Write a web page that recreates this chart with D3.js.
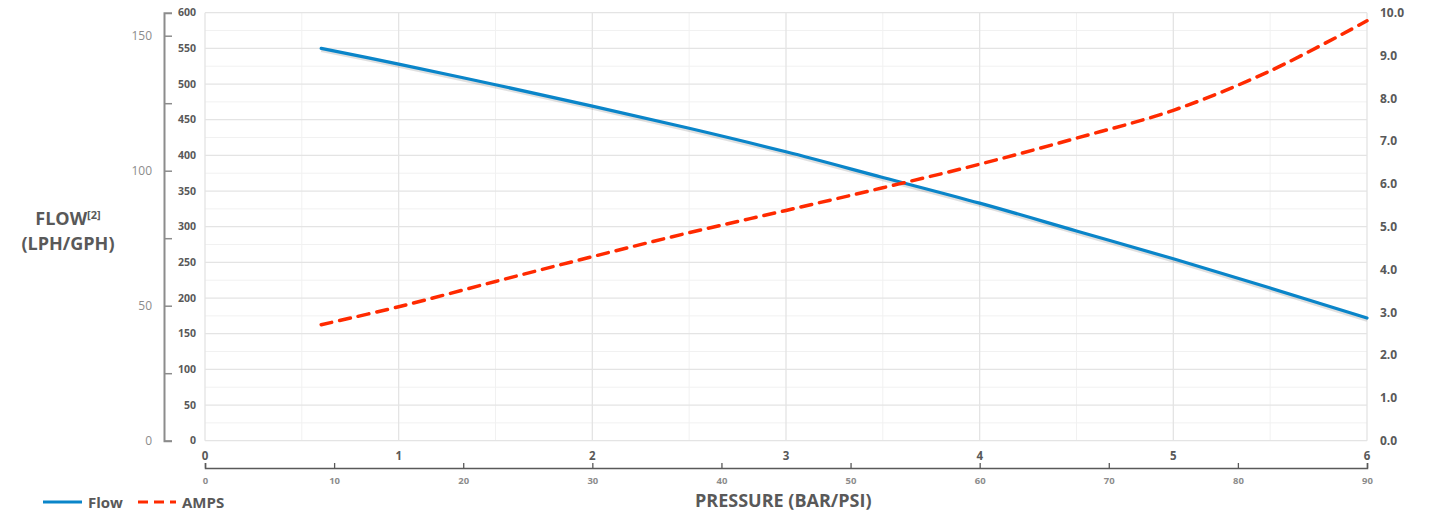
<!DOCTYPE html>
<html>
<head>
<meta charset="utf-8">
<script src="https://cdn.jsdelivr.net/npm/d3@7"></script>
<style>
  body { margin: 0; background: #fff; }
  svg { display: block; font-family: "Liberation Sans Narrow", "Open Sans", sans-serif; }
</style>
</head>
<body>
<div id="chart"></div>
<script>
const width = 1432;
const height = 515;

// pressure (bar) points along the curves
const pressureBar = [0.6, 1, 1.5, 2, 2.5, 3, 3.5, 4, 4.5, 5, 5.5, 6];
// flow in LPH
const flowLph = [550, 528, 499, 469, 438, 405, 369, 333, 294, 255, 214, 172];
// current draw in amps
const amps = [2.71, 3.13, 3.72, 4.30, 4.86, 5.38, 5.91, 6.46, 7.07, 7.72, 8.64, 9.81];

const barTicks = [0, 1, 2, 3, 4, 5, 6];
const psiTicks = [0, 10, 20, 30, 40, 50, 60, 70, 80, 90];
const lphTicks = [0, 50, 100, 150, 200, 250, 300, 350, 400, 450, 500, 550, 600];
const gphTicks = [0, 25, 50, 75, 100, 125, 150];
const ampTicks = [0, 1, 2, 3, 4, 5, 6, 7, 8, 9, 10];

const plotL = 205, plotR = 1367, plotT = 12.7, plotB = 440.7;

const x = d3.scaleLinear().domain([0, 6]).range([plotL, plotR]);
const xPsi = d3.scaleLinear().domain([0, 90]).range([plotL, plotR]);
const y = d3.scaleLinear().domain([0, 600]).range([plotB, plotT]);
const yGph = d3.scaleLinear().domain([0, 600 / 3.785]).range([plotB, plotT]);
const yAmp = d3.scaleLinear().domain([0, 10]).range([plotB, plotT]);

const svg = d3.select("#chart").append("svg")
    .attr("width", width)
    .attr("height", height);

// grid - minor first
const grid = svg.append("g");
grid.selectAll(".hminor")
    .data(d3.range(25, 600, 50))
    .enter().append("line")
    .attr("x1", plotL).attr("x2", plotR)
    .attr("y1", d => y(d)).attr("y2", d => y(d))
    .attr("stroke", "#f1f1f1").attr("stroke-width", 1);
grid.selectAll(".vminor")
    .data(d3.range(0.5, 6, 1))
    .enter().append("line")
    .attr("x1", d => x(d)).attr("x2", d => x(d))
    .attr("y1", plotT).attr("y2", plotB)
    .attr("stroke", "#f1f1f1").attr("stroke-width", 1);
grid.selectAll(".hmajor")
    .data(lphTicks)
    .enter().append("line")
    .attr("x1", plotL).attr("x2", plotR)
    .attr("y1", d => y(d)).attr("y2", d => y(d))
    .attr("stroke", "#e4e4e4").attr("stroke-width", 1.3);
grid.selectAll(".vmajor")
    .data(barTicks)
    .enter().append("line")
    .attr("x1", d => x(d)).attr("x2", d => x(d))
    .attr("y1", plotT).attr("y2", plotB)
    .attr("stroke", "#e4e4e4").attr("stroke-width", 1.3);

// LPH labels
svg.append("g").selectAll("text")
    .data(lphTicks)
    .enter().append("text")
    .attr("x", 196)
    .attr("y", d => y(d))
    .attr("dy", "0.35em")
    .attr("text-anchor", "end")
    .style("font-size", "10.5px")
    .style("font-weight", "bold")
    .style("fill", "#595959")
    .text(d => d);

// GPH axis
const gphAxis = svg.append("g")
    .attr("transform", "translate(164,0)")
    .call(d3.axisRight(yGph).tickValues(gphTicks).tickSize(8).tickSizeOuter(8)
        .tickFormat(d => d % 50 === 0 ? d : ""));
gphAxis.select(".domain").attr("stroke", "#8c8c8c").attr("stroke-width", 2);
gphAxis.selectAll(".tick line").attr("stroke", "#8c8c8c").attr("stroke-width", 1.5);
gphAxis.selectAll(".tick text")
    .attr("x", -12)
    .attr("text-anchor", "end")
    .style("font-family", "Liberation Sans Narrow, Open Sans, sans-serif")
    .style("font-size", "12px")
    .style("fill", "#8c8c8c");

// right amps labels
svg.append("g").selectAll("text")
    .data(ampTicks)
    .enter().append("text")
    .attr("x", 1380)
    .attr("y", d => yAmp(d))
    .attr("dy", "0.35em")
    .style("font-size", "12px")
    .style("font-weight", "bold")
    .style("fill", "#595959")
    .text(d => d3.format(".1f")(d));

// bar labels
svg.append("g").selectAll("text")
    .data(barTicks)
    .enter().append("text")
    .attr("x", d => x(d))
    .attr("y", 460)
    .attr("text-anchor", "middle")
    .style("font-size", "11.5px")
    .style("font-weight", "bold")
    .style("fill", "#595959")
    .text(d => d);

// PSI axis
const psiAxis = svg.append("g")
    .attr("transform", "translate(0,468)")
    .call(d3.axisBottom(xPsi).tickValues(psiTicks).tickSize(-5).tickSizeOuter(-5).tickPadding(9));
psiAxis.select(".domain").attr("stroke", "#595959").attr("stroke-width", 1.5);
psiAxis.selectAll(".tick line").attr("stroke", "#595959").attr("stroke-width", 1.3);
psiAxis.selectAll(".tick text")
    .style("font-family", "Liberation Sans Narrow, Open Sans, sans-serif")
    .style("font-size", "9.5px")
    .style("font-weight", "bold")
    .style("fill", "#8c8c8c");

// axis titles
svg.append("text")
    .attr("x", 695).attr("y", 507)
    .style("font-size", "18px")
    .style("font-weight", "bold")
    .style("fill", "#595959")
    .text("PRESSURE (BAR/PSI)");

const flowTitle = svg.append("text")
    .attr("x", 68).attr("y", 225)
    .attr("text-anchor", "middle")
    .style("font-size", "18px")
    .style("font-weight", "bold")
    .style("fill", "#595959");
flowTitle.append("tspan").text("FLOW");
flowTitle.append("tspan").attr("dy", -6).style("font-size", "11px").text("[2]");
svg.append("text")
    .attr("x", 68).attr("y", 250)
    .attr("text-anchor", "middle")
    .style("font-size", "18px")
    .style("font-weight", "bold")
    .style("fill", "#595959")
    .text("(LPH/GPH)");

// lines
const flowLine = d3.line()
    .x((d, i) => x(pressureBar[i]))
    .y(d => y(d))
    .curve(d3.curveCatmullRom.alpha(0.5));
const ampLine = d3.line()
    .x((d, i) => x(pressureBar[i]))
    .y(d => yAmp(d))
    .curve(d3.curveCatmullRom.alpha(0.5));

// soft shadow under flow
svg.append("path")
    .datum(flowLph)
    .attr("d", flowLine)
    .attr("transform", "translate(0,2)")
    .attr("fill", "none")
    .attr("stroke", "#000")
    .attr("stroke-opacity", 0.12)
    .attr("stroke-width", 3.5);
svg.append("path")
    .datum(flowLph)
    .attr("d", flowLine)
    .attr("fill", "none")
    .attr("stroke", "#0a85c9")
    .attr("stroke-width", 3.2)
    .attr("stroke-linecap", "round");

svg.append("path")
    .datum(amps)
    .attr("d", ampLine)
    .attr("fill", "none")
    .attr("stroke", "#ff2a00")
    .attr("stroke-width", 3.5)
    .attr("stroke-dasharray", "11,8")
    .attr("stroke-linecap", "round");

// legend
const legend = svg.append("g");
legend.append("line")
    .attr("x1", 43).attr("x2", 82).attr("y1", 502).attr("y2", 502)
    .attr("stroke", "#0a85c9").attr("stroke-width", 3);
legend.append("text")
    .attr("x", 88).attr("y", 508)
    .style("font-size", "15px")
    .style("font-weight", "bold")
    .style("fill", "#595959")
    .text("Flow");
legend.append("line")
    .attr("x1", 138).attr("x2", 176).attr("y1", 502).attr("y2", 502)
    .attr("stroke", "#ff2a00").attr("stroke-width", 3)
    .attr("stroke-dasharray", "10,6");
legend.append("text")
    .attr("x", 182).attr("y", 508)
    .style("font-size", "15px")
    .style("font-weight", "bold")
    .style("fill", "#595959")
    .text("AMPS");
</script>
</body>
</html>
